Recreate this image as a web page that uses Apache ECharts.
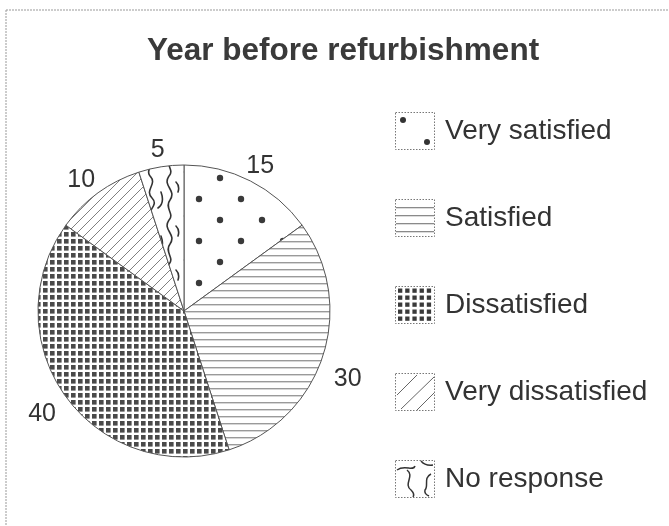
<!DOCTYPE html>
<html>
<head>
<meta charset="utf-8">
<script src="https://cdn.jsdelivr.net/npm/echarts@6/dist/echarts.min.js"></script>
<style>
html,body{margin:0;padding:0;background:#fff;}
#chart{width:669px;height:526px;}
</style>
</head>
<body>
<div id="chart"></div>
<script>
// ---- data ----
const chartTitle = 'Year before refurbishment';
const categories = ['Very satisfied', 'Satisfied', 'Dissatisfied', 'Very dissatisfied', 'No response'];
const values = [15, 30, 40, 10, 5];

// ---- pattern helpers ----
function makeCanvas(w, h, draw) {
  const c = document.createElement('canvas');
  c.width = w; c.height = h;
  const ctx = c.getContext('2d');
  ctx.fillStyle = '#fff';
  ctx.fillRect(0, 0, w, h);
  draw(ctx, w, h);
  return c;
}
function dot(ctx, x, y, r, col) {
  ctx.fillStyle = col; ctx.beginPath(); ctx.arc(x, y, r, 0, Math.PI * 2); ctx.fill();
}
function squiggles(ctx) {
  ctx.strokeStyle = '#333'; ctx.lineWidth = 1.6; ctx.lineCap = 'round';
  ctx.beginPath();
  ctx.moveTo(6, 0); ctx.bezierCurveTo(14, 8, 0, 14, 8, 22); ctx.bezierCurveTo(16, 30, 0, 36, 6, 44);
  ctx.moveTo(25, 0); ctx.bezierCurveTo(18, 10, 33, 14, 26, 24); ctx.bezierCurveTo(20, 32, 31, 38, 25, 44);
  ctx.moveTo(14, 32); ctx.quadraticCurveTo(21, 27, 17, 16);
  ctx.moveTo(32, 6); ctx.quadraticCurveTo(36, 10, 34, 16);
  ctx.stroke();
}
const patterns = [
  makeCanvas(42, 42, (ctx) => { dot(ctx, 10, 10, 3.2, '#3a3a3a'); dot(ctx, 31, 31, 3.2, '#3a3a3a'); }),
  makeCanvas(7, 7, (ctx) => { ctx.fillStyle = '#9a9a9a'; ctx.fillRect(0, 3, 7, 1.4); }),
  makeCanvas(7, 7, (ctx) => { ctx.fillStyle = '#4a4a4a'; ctx.fillRect(1, 1, 4.6, 4.6); }),
  makeCanvas(10, 10, (ctx) => {
    ctx.strokeStyle = '#808080'; ctx.lineWidth = 1;
    ctx.beginPath(); ctx.moveTo(-1, 11); ctx.lineTo(11, -1);
    ctx.moveTo(-1, 1); ctx.lineTo(1, -1); ctx.moveTo(9, 11); ctx.lineTo(11, 9); ctx.stroke();
  }),
  makeCanvas(36, 44, (ctx) => squiggles(ctx))
];

// ---- legend icons ----
function iconBorder(ctx, w, h) {
  ctx.strokeStyle = '#777'; ctx.lineWidth = 1; ctx.setLineDash([1.5, 1.5]);
  ctx.strokeRect(0.5, 0.5, w - 1, h - 1); ctx.setLineDash([]);
}
const icons = [
  makeCanvas(40, 38, (ctx, w, h) => { dot(ctx, 8, 8, 3, '#333'); dot(ctx, 32, 30, 3, '#333'); iconBorder(ctx, w, h); }),
  makeCanvas(40, 38, (ctx, w, h) => {
    ctx.fillStyle = '#8a8a8a';
    [8, 16, 24, 32].forEach(y => ctx.fillRect(1, y, 38, 1.3));
    iconBorder(ctx, w, h);
  }),
  makeCanvas(40, 38, (ctx, w, h) => {
    ctx.fillStyle = '#3a3a3a';
    for (let i = 0; i < 5; i++) for (let j = 0; j < 5; j++) ctx.fillRect(3 + i * 7.2, 2.5 + j * 7, 4.3, 4.3);
    iconBorder(ctx, w, h);
  }),
  makeCanvas(40, 38, (ctx, w, h) => {
    ctx.strokeStyle = '#666'; ctx.lineWidth = 1;
    ctx.beginPath();
    ctx.moveTo(2, 22); ctx.lineTo(22, 2);
    ctx.moveTo(6, 36); ctx.lineTo(39, 4);
    ctx.moveTo(22, 37); ctx.lineTo(39, 20);
    ctx.stroke();
    iconBorder(ctx, w, h);
  }),
  makeCanvas(40, 38, (ctx, w, h) => {
    ctx.strokeStyle = '#333'; ctx.lineWidth = 1.5;
    ctx.beginPath();
    ctx.moveTo(2, 10); ctx.bezierCurveTo(10, 4, 18, 12, 20, 6);
    ctx.moveTo(12, 10); ctx.bezierCurveTo(20, 16, 8, 24, 16, 30); ctx.quadraticCurveTo(20, 34, 18, 37);
    ctx.moveTo(36, 14); ctx.bezierCurveTo(28, 18, 34, 26, 30, 30); ctx.quadraticCurveTo(29, 34, 34, 36);
    ctx.moveTo(26, 1); ctx.quadraticCurveTo(30, 6, 38, 5);
    ctx.stroke();
    iconBorder(ctx, w, h);
  })
];

const FONT = 'Liberation Sans, Arial, Helvetica, sans-serif';
const center = [184, 311];
const R = 146;

const pieData = categories.map((name, i) => ({
  name: name,
  value: values[i],
  itemStyle: { color: { image: patterns[i], repeat: 'repeat' } }
}));
const labelData = categories.map((name, i) => {
  const d = { name: name, value: values[i] };
  if (i === 1) d.label = { offset: [4, 16] };
  if (i === 2) d.label = { offset: [-6, 4] };
  if (i === 3) d.label = { offset: [-4, 5] };
  return d;
});

const chart = echarts.init(document.getElementById('chart'));
chart.setOption({
  animation: false,
  backgroundColor: '#fff',
  title: {
    text: chartTitle,
    left: 147, top: 35, padding: 0,
    textStyle: { fontFamily: FONT, fontSize: 31.5, fontWeight: 'bold', color: '#3a3a3a' }
  },
  legend: {
    orient: 'vertical',
    left: 395, top: 112, padding: 0,
    itemWidth: 40, itemHeight: 38, itemGap: 49,
    selectedMode: false,
    textStyle: { fontFamily: FONT, fontSize: 28, color: '#333', padding: [0, 0, 0, 5] },
    data: categories.map((n, i) => ({ name: n, icon: 'image://' + icons[i].toDataURL() }))
  },
  graphic: [
    { type: 'line', shape: { x1: 6, y1: 10, x2: 669, y2: 10 }, style: { stroke: '#999', lineWidth: 1, lineDash: [2, 1] }, silent: true },
    { type: 'line', shape: { x1: 6, y1: 10, x2: 6, y2: 526 }, style: { stroke: '#999', lineWidth: 1, lineDash: [2, 1] }, silent: true }
  ],
  series: [
    {
      type: 'pie',
      center: center,
      radius: [0, R],
      startAngle: 90,
      clockwise: true,
      silent: true,
      label: { show: false },
      labelLine: { show: false },
      itemStyle: { borderColor: '#555', borderWidth: 1 },
      emphasis: { disabled: true },
      data: pieData
    },
    {
      type: 'pie',
      center: center,
      radius: [R + 4, R + 34],
      startAngle: 90,
      clockwise: true,
      silent: true,
      itemStyle: { color: 'rgba(0,0,0,0)', borderWidth: 0 },
      label: { show: true, position: 'inside', offset: [0, 5], formatter: '{c}', fontFamily: FONT, fontSize: 25, color: '#333' },
      labelLine: { show: false },
      emphasis: { disabled: true },
      data: labelData
    }
  ]
});
</script>
</body>
</html>
